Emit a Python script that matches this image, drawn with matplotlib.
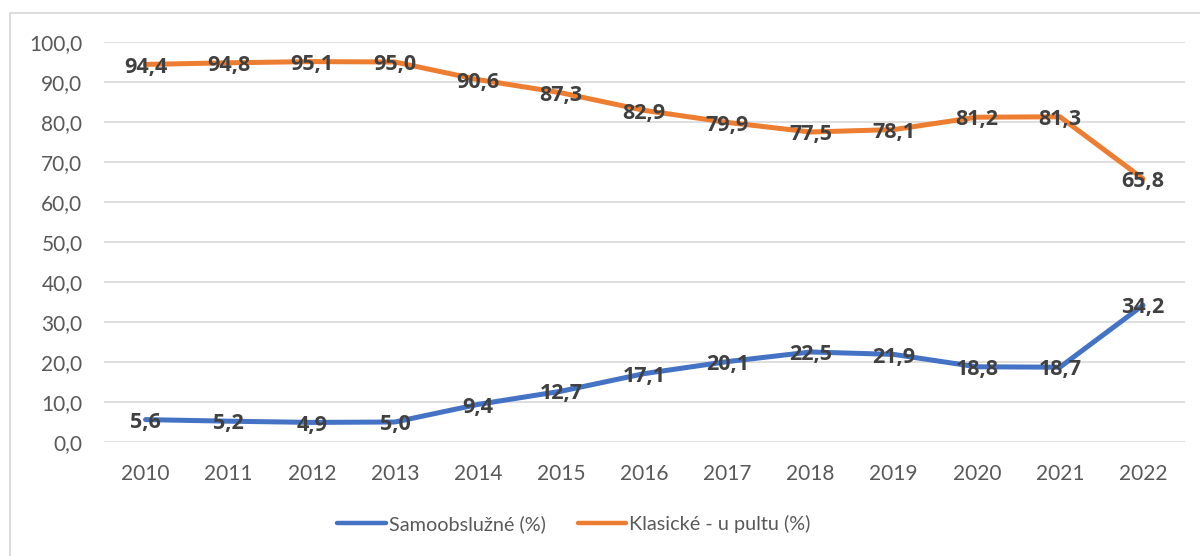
import numpy as np
import matplotlib
matplotlib.use("Agg")
import matplotlib.pyplot as plt
from matplotlib.patches import Rectangle
from matplotlib.lines import Line2D

years = ["2010", "2011", "2012", "2013", "2014", "2015", "2016",
         "2017", "2018", "2019", "2020", "2021", "2022"]
samoobsluzne = [5.6, 5.2, 4.9, 5.0, 9.4, 12.7, 17.1, 20.1, 22.5, 21.9, 18.8, 18.7, 34.2]
klasicke = [94.4, 94.8, 95.1, 95.0, 90.6, 87.3, 82.9, 79.9, 77.5, 78.1, 81.2, 81.3, 65.8]
series_names = ["Samoobslužné (%)", "Klasické - u pultu (%)"]
colors = ["#4472C4", "#ED7D31"]

plt.rcParams['font.family'] = ['Lato', 'DejaVu Sans']

W, H = 1200, 556
fig = plt.figure(figsize=(W / 100, H / 100), dpi=100)
ax = fig.add_axes([104 / W, 1 - 442 / H, (1184.6 - 104) / W, 400 / H])

# chart border (cropped at right/bottom)
fig.patches.append(Rectangle((10 / W, -0.1), 1.2, 1 - 13 / H + 0.1,
                             transform=fig.transFigure, fill=False,
                             edgecolor="#D9D9D9", linewidth=1.3, zorder=0))

x = np.arange(len(years))
for vals, col in zip([samoobsluzne, klasicke], colors):
    ax.plot(x, vals, color=col, linewidth=3.6, solid_capstyle="round",
            solid_joinstyle="round", zorder=3)
    for xi, v in zip(x, vals):
        ax.text(xi, v - 0.7, f"{v:.1f}".replace(".", ","), ha="center", va="center",
                fontsize=15.5, fontweight="bold", color="#404040", zorder=4,
                family=["Open Sans", "DejaVu Sans"])

ax.set_xlim(-0.5, len(years) - 0.5)
ax.set_ylim(0, 100)
ax.set_yticks(np.arange(0, 101, 10))
ax.set_yticklabels([f"{v:.1f}".replace(".", ",") for v in np.arange(0, 101, 10)])
ax.set_xticks(x)
ax.set_xticklabels(years)
ax.grid(axis="y", color="#D9D9D9", linewidth=1.2)
ax.set_axisbelow(True)
for s in ax.spines.values():
    s.set_visible(False)
ax.tick_params(axis="both", length=0, labelsize=15, colors="#595959")
ax.tick_params(axis="y", pad=15.5)
ax.tick_params(axis="x", pad=16)

handles = [Line2D([], [], color=c, linewidth=3.2, solid_capstyle="round") for c in colors]
fig.legend(handles, series_names, loc="center", bbox_to_anchor=(574 / W, 1 - 524 / H),
           ncol=2, frameon=False, fontsize=14.3, handlelength=2.45,
           handletextpad=0.15, columnspacing=1.6, labelcolor="#595959")

fig.savefig("out.png", dpi=100)
